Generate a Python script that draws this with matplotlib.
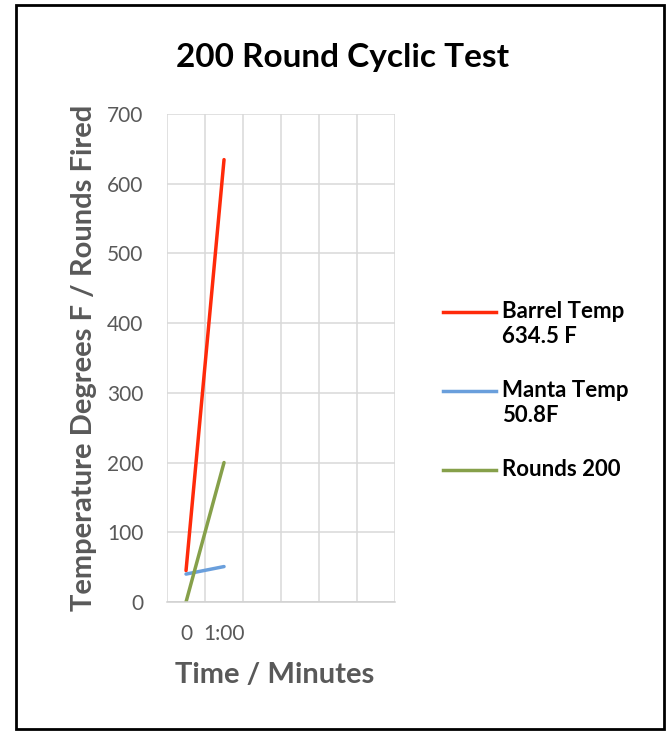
import numpy as np
import matplotlib
matplotlib.use('Agg')
import matplotlib.pyplot as plt
from matplotlib.lines import Line2D
from matplotlib.patches import Rectangle

plt.rcParams['font.family'] = ['Lato', 'DejaVu Sans']

# 数据
categories = ['0', '1:00', '', '', '', '']
series_names = ['Barrel Temp\n634.5 F', 'Manta Temp\n50.8F', 'Rounds 200']
barrel_temp = [45, 634.5]
manta_temp = [40, 50.8]
rounds = [0, 200]
colors = ['#FF2A0A', '#6A9FDC', '#86A04A']

fig = plt.figure(figsize=(6.7, 7.31), dpi=100)
ax = fig.add_axes([0.2493, 0.1765, 0.3403, 0.6676])

x = np.arange(len(barrel_temp))
for vals, col in zip([barrel_temp, manta_temp, rounds], colors):
    ax.plot(x, vals, color=col, linewidth=2.5, solid_capstyle='round')

ax.set_xlim(-0.5, len(categories) - 0.5)
ax.set_ylim(0, 700)
ax.set_yticks(np.arange(0, 701, 100))
ax.set_xticks(np.arange(len(categories)))
ax.set_xticklabels(categories)
ax.set_xticks(np.arange(-0.5, len(categories), 1), minor=True)

ax.grid(True, which='major', axis='y', color='#D9D9D9', linewidth=1.1)
ax.grid(True, which='minor', axis='x', color='#D9D9D9', linewidth=1.1)
ax.set_axisbelow(True)
for s in ['top', 'right', 'left']:
    ax.spines[s].set_visible(False)
ax.spines['bottom'].set_color('#D0D0D0')
ax.spines['bottom'].set_linewidth(1.1)
ax.tick_params(which='both', length=0, labelsize=15, labelcolor='#595959')
ax.tick_params(axis='y', pad=17)
ax.tick_params(axis='x', pad=16)

ax.set_ylabel('Temperature Degrees F / Rounds Fired', fontsize=21, fontweight='bold',
              color='#595959', va='center')
ax.yaxis.set_label_coords(-0.364, 0.5)
ax.set_xlabel('Time / Minutes', fontsize=21, fontweight='bold', color='#595959', va='center')
ax.xaxis.set_label_coords(0.474, -0.150)

fig.text(0.511, 0.922, '200 Round Cyclic Test', ha='center', va='center',
         fontsize=24, fontweight='bold', color='black')

# 图例
leg_y = [312, 391, 470]
for name, col, yy in zip(series_names, colors, leg_y):
    fy = 1 - yy / 731
    fig.add_artist(Line2D([443 / 670, 496 / 670], [fy, fy], color=col, linewidth=2.5))
    fig.text(502 / 670, fy + 11 / 731, name, ha='left', va='top', fontsize=16,
             fontweight='bold', color='black', linespacing=1.25)

# 外框
fig.add_artist(Rectangle((16 / 670, 2 / 731), 648 / 670, 724 / 731, transform=fig.transFigure,
                         fill=False, edgecolor='black', linewidth=2))

fig.savefig('out.png', dpi=100)
